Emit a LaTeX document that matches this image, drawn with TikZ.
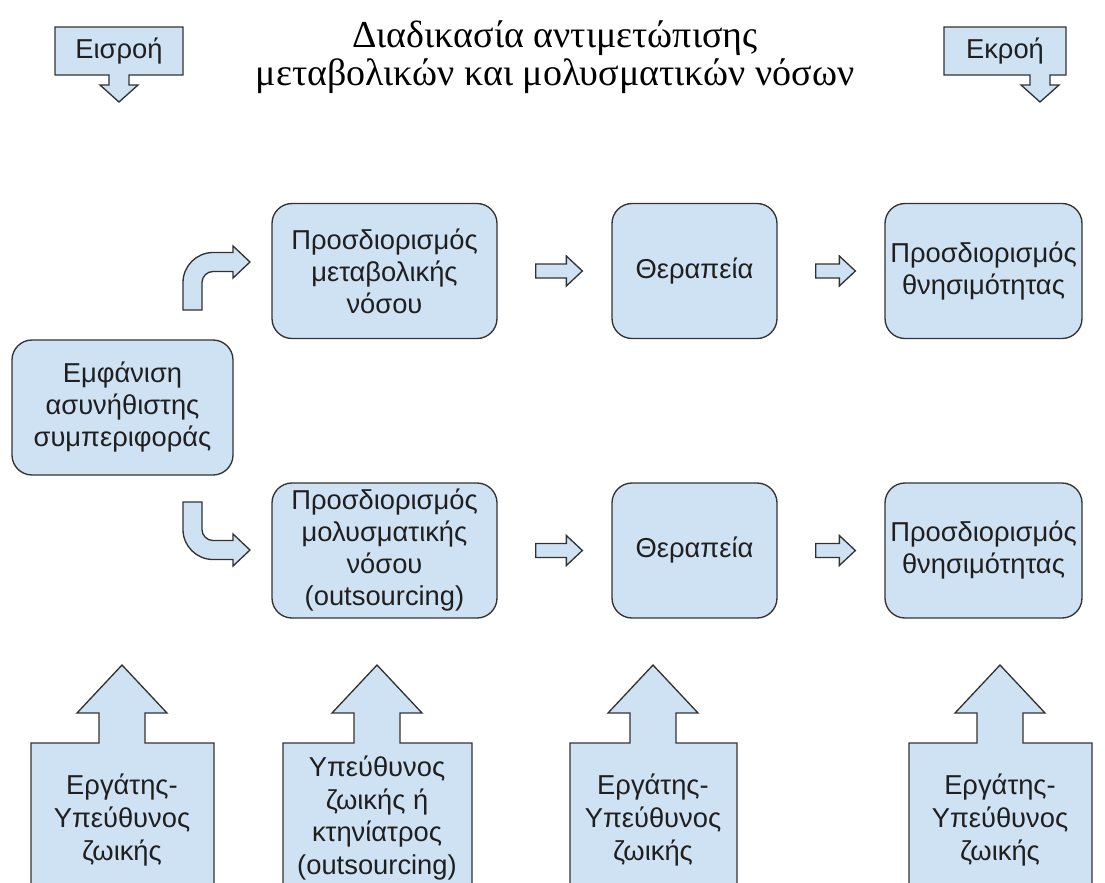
\documentclass[tikz,border=0pt]{standalone}
\usepackage{fontspec}
\setmainfont{Liberation Sans}
\newfontfamily\titlefont{Liberation Serif}
\usetikzlibrary{calc}
\definecolor{boxfill}{HTML}{CFE2F3}
\definecolor{boxline}{HTML}{333333}
\definecolor{txt}{HTML}{1F1F1F}
\newcommand\flowarrow[2]{%
  \draw[blockarrow] let \p1=(#1.east), \p2=(#2.west) in
    (\x1+28.5pt,\y1+5.25pt) -- (\x2-33.75pt,\y1+5.25pt) -- (\x2-33.75pt,\y1+11.25pt)
    -- (\x2-21.75pt,\y1) -- (\x2-33.75pt,\y1-11.25pt) -- (\x2-33.75pt,\y1-5.25pt)
    -- (\x1+28.5pt,\y1-5.25pt) -- cycle;}
\newcommand\uparrowbox[4]{% left, right, centre, name
  \draw[blockarrow] (#1,900) -- (#1,743) -- (#3-23,743) -- (#3-23,713) -- (#3-45,713)
    -- (#3,665) -- (#3+45,713) -- (#3+23,713) -- (#3+23,743) -- (#2,743) -- (#2,900) -- cycle;}
\begin{document}
\begin{tikzpicture}[x=0.75pt,y=-0.75pt,
  box/.style={draw=boxline, fill=boxfill, line width=1pt, rounded corners=15pt,
    align=center, inner sep=0pt, text=txt, font=\fontsize{20.5}{24}\selectfont,
    minimum height=101.25pt},
  blockarrow/.style={draw=boxline, fill=boxfill, line width=1pt, line join=miter},
  lbl/.style={align=center, inner sep=0pt, text=txt, font=\fontsize{20.5}{24.5}\selectfont}]
\useasboundingbox (0,0) rectangle (1105,882);
\clip (0,0) rectangle (1105,882);

% title
\node[align=center, inner sep=0pt, font=\titlefont\fontsize{28.5}{28.5}\selectfont] (title) at (555,57)
  {Διαδικασία αντιμετώπισης\\μεταβολικών και μολυσματικών νόσων};

% input / output callouts
\draw[blockarrow] (55,27) -- (183,27) -- (183,75) -- (129,75) -- (129,85) -- (138,85) -- (119,102)
  -- (100,85) -- (109,85) -- (109,75) -- (55,75) -- cycle;
\node[lbl] (in) at (119,51) {Εισροή};
\draw[blockarrow] (944,27) -- (1066,27) -- (1066,75) -- (1050,75) -- (1050,85) -- (1059,85) -- (1040,102)
  -- (1021,85) -- (1030,85) -- (1030,75) -- (944,75) -- cycle;
\node[lbl] (out) at (1005,51) {Εκροή};

% boxes
\node[box, minimum width=165.75pt] (e) at (122.5,407.5) {Εμφάνιση\\ασυνήθιστης\\συμπεριφοράς};
\node[box, minimum width=168.75pt] (m1) at (384.5,271) {Προσδιορισμός\\μεταβολικής\\νόσου};
\node[box, minimum width=123.75pt] (m2) at (694.5,271) {Θεραπεία};
\node[box, minimum width=147.75pt] (m3) at (983.5,271) {Προσδιορισμός\\θνησιμότητας};
\node[box, minimum width=168.75pt] (b1) at (384.5,550.5) {Προσδιορισμός\\μολυσματικής\\νόσου\\(outsourcing)};
\node[box, minimum width=123.75pt] (b2) at (694.5,550.5) {Θεραπεία};
\node[box, minimum width=147.75pt] (b3) at (983.5,550.5) {Προσδιορισμός\\θνησιμότητας};

% straight flow arrows
\flowarrow{m1}{m2}
\flowarrow{m2}{m3}
\flowarrow{b1}{b2}
\flowarrow{b2}{b3}

% bent arrows from e
\draw[blockarrow] (183,310) -- (183,282.5) .. controls (183,266) and (196.5,252.5) .. (213,252.5)
  -- (233,252.5) -- (233,246) -- (250,262) -- (233,278) -- (233,271.5) -- (213,271.5)
  .. controls (207,271.5) and (202,276.5) .. (202,282.5) -- (202,310) -- cycle;
\draw[blockarrow] (183,502) -- (183,529.5) .. controls (183,546) and (196.5,559.5) .. (213,559.5)
  -- (233,559.5) -- (233,566) -- (250,550) -- (233,534) -- (233,540.5) -- (213,540.5)
  .. controls (207,540.5) and (202,535.5) .. (202,529.5) -- (202,502) -- cycle;

% resource arrows
\uparrowbox{31}{214}{122}{r1}
\node[lbl] (w1) at (122,820) {Εργάτης-\\Υπεύθυνος\\ζωικής};
\uparrowbox{283}{472}{377}{r2}
\node[lbl] (w2) at (377,818) {Υπεύθυνος\\ζωικής ή\\κτηνίατρος\\(outsourcing)};
\uparrowbox{570}{737}{653}{r3}
\node[lbl] (w3) at (653,820) {Εργάτης-\\Υπεύθυνος\\ζωικής};
\uparrowbox{909}{1092}{1000}{r4}
\node[lbl] (w4) at (1000,820) {Εργάτης-\\Υπεύθυνος\\ζωικής};
\end{tikzpicture}
\end{document}
